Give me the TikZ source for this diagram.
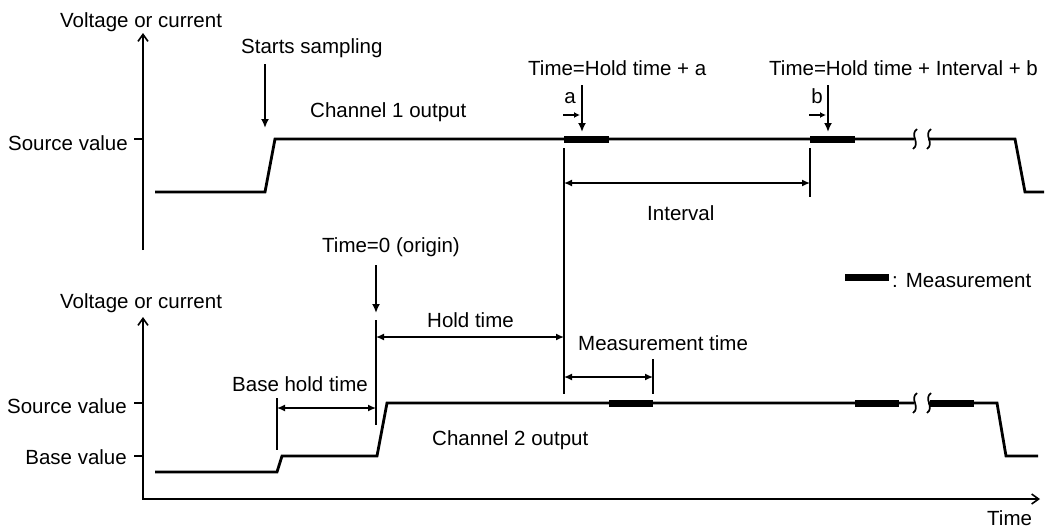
\documentclass[tikz,border=0pt]{standalone}
\usepackage{fontspec}
\setmainfont{Liberation Sans}
\usetikzlibrary{arrows.meta}
\begin{document}
\begin{tikzpicture}[x=1pt,y=-1pt,
  font=\fontsize{20.5}{24}\selectfont,
  wave/.style={line width=2.8pt, line join=miter},
  axisone/.style={line width=2pt, -{Straight Barb[length=7pt,width=10pt,line width=1.6pt]}},
  axistwo/.style={line width=2pt, {Straight Barb[length=7pt,width=10pt,line width=1.6pt]}-{Straight Barb[length=7pt,width=10pt,line width=1.6pt]}},
  dim/.style={line width=1.4pt, {Latex[length=8pt,width=7pt]}-{Latex[length=8pt,width=7pt]}},
  extl/.style={line width=1.8pt},
  ptr/.style={line width=1.8pt, -{Latex[length=9pt,width=8pt]}},
  sptr/.style={line width=1.6pt, -{Latex[length=6pt,width=6pt]}},
  meas/.style={line width=7pt},
  brk/.style={line width=1.7pt},
  lbl/.style={anchor=base west, inner sep=0pt},
  lblr/.style={anchor=base east, inner sep=0pt},
  tickl/.style={line width=2pt}]
\useasboundingbox (0,0) rectangle (1060,531);

% ---------- top diagram ----------
\coordinate (a1b) at (143,250);
\coordinate (a1t) at (143,33);
\draw[axisone] (a1b) -- (a1t);
\coordinate (t1a) at (134,139);
\coordinate (t1b) at (143,139);
\draw[tickl] (t1a) -- (t1b);

\node[lbl] (v1) at (60,27) {Voltage or current};
\node[lblr] (s1) at (128,150) {Source value};
\node[lbl] (ss) at (241,53) {Starts sampling};
\node[lbl] (c1) at (310,117) {Channel 1 output};
\node[lbl] (th1) at (528,75) {Time=Hold time + a};
\node[lbl] (th2) at (769,75) {Time=Hold time + Interval + b};
\node[anchor=base, inner sep=0pt] (la) at (570,103) {a};
\node[anchor=base, inner sep=0pt] (lb) at (817,103) {b};
\node[lbl] (iv) at (647,220) {Interval};

% channel 1 waveform
\coordinate (w1) at (155,192);
\coordinate (w2) at (265,192);
\coordinate (w3) at (275,139);
\coordinate (w4) at (914,139);
\coordinate (w5) at (928,139);
\coordinate (w6) at (1015,139);
\coordinate (w7) at (1025,192);
\coordinate (w8) at (1044,192);
\draw[wave] (w1) -- (w2) -- (w3) -- (w4);
\draw[wave] (w5) -- (w6) -- (w7) -- (w8);
\draw[brk] (917,129) .. controls (909,135) and (921,143) .. (913,149);
\draw[brk] (931,129) .. controls (923,135) and (935,143) .. (927,149);

% measurement bars ch1
\coordinate (m1a) at (564,139); \coordinate (m1b) at (609,139);
\coordinate (m2a) at (810,139); \coordinate (m2b) at (855,139);
\draw[meas] (m1a) -- (m1b);
\draw[meas] (m2a) -- (m2b);

% pointers
\coordinate (ssa) at (265,64); \coordinate (ssb) at (265,128);
\draw[ptr] (ssa) -- (ssb);
\coordinate (paa) at (582,85); \coordinate (pab) at (582,132);
\draw[ptr] (paa) -- (pab);
\coordinate (pba) at (828,85); \coordinate (pbb) at (828,132);
\draw[ptr] (pba) -- (pbb);
\coordinate (saa) at (563,115); \coordinate (sab) at (580,115);
\draw[sptr] (saa) -- (sab);
\coordinate (sba) at (809,115); \coordinate (sbb) at (826,115);
\draw[sptr] (sba) -- (sbb);

% interval
\coordinate (e1a) at (564,148); \coordinate (e1b) at (564,394);
\coordinate (e2a) at (810,148); \coordinate (e2b) at (810,197);
\draw[extl] (e1a) -- (e1b);
\draw[extl] (e2a) -- (e2b);
\coordinate (ia) at (564,183); \coordinate (ib) at (810,183);
\draw[dim] (ia) -- (ib);

% legend
\coordinate (lga) at (845,277); \coordinate (lgb) at (889,277);
\draw[meas] (lga) -- (lgb);
\node[lbl] (lgt) at (892,287) {:\hspace{8pt}Measurement};

% ---------- bottom diagram ----------
\coordinate (a2t) at (143,317);
\coordinate (a2c) at (143,499);
\coordinate (a2r) at (1040,499);
\draw[axistwo] (a2t) -- (a2c) -- (a2r);
\coordinate (t2a) at (134,403); \coordinate (t2b) at (143,403);
\coordinate (t3a) at (134,456); \coordinate (t3b) at (143,456);
\draw[tickl] (t2a) -- (t2b);
\draw[tickl] (t3a) -- (t3b);

\node[lbl] (v2) at (60,308) {Voltage or current};
\node[lblr] (s2) at (127,413) {Source value};
\node[lblr] (bv) at (127,464) {Base value};
\node[lbl] (tm) at (987,525) {Time};
\node[lbl] (t0) at (322,252) {Time=0 (origin)};
\node[lbl] (ht) at (427,327) {Hold time};
\node[lbl] (mt) at (578,350) {Measurement time};
\node[lbl] (bh) at (232,391) {Base hold time};
\node[lbl] (c2) at (432,445) {Channel 2 output};

% channel 2 waveform
\coordinate (u1) at (155,472);
\coordinate (u2) at (277,472);
\coordinate (u3) at (282,456);
\coordinate (u4) at (377,456);
\coordinate (u5) at (387,403);
\coordinate (u6) at (914,403);
\coordinate (u7) at (928,403);
\coordinate (u8) at (997,403);
\coordinate (u9) at (1006,456);
\coordinate (u10) at (1038,456);
\draw[wave] (u1) -- (u2) -- (u3) -- (u4) -- (u5) -- (u6);
\draw[wave] (u7) -- (u8) -- (u9) -- (u10);
\draw[brk] (917,393) .. controls (909,399) and (921,407) .. (913,413);
\draw[brk] (931,393) .. controls (923,399) and (935,407) .. (927,413);

% measurement bars ch2
\coordinate (n1a) at (609,403); \coordinate (n1b) at (653,403);
\coordinate (n2a) at (855,403); \coordinate (n2b) at (899,403);
\coordinate (n3a) at (930,403); \coordinate (n3b) at (974,403);
\draw[meas] (n1a) -- (n1b);
\draw[meas] (n2a) -- (n2b);
\draw[meas] (n3a) -- (n3b);

% base hold time
\coordinate (f1a) at (277,398); \coordinate (f1b) at (277,450);
\coordinate (f2a) at (376,320); \coordinate (f2b) at (376,425);
\draw[extl] (f1a) -- (f1b);
\draw[extl] (f2a) -- (f2b);
\coordinate (ba) at (277,408); \coordinate (bb) at (376,408);
\draw[dim] (ba) -- (bb);

% time = 0
\coordinate (z0a) at (376,265); \coordinate (z0b) at (376,313);
\draw[ptr] (z0a) -- (z0b);

% hold time
\coordinate (ha) at (376,337); \coordinate (hb) at (564,337);
\draw[dim] (ha) -- (hb);

% measurement time
\coordinate (g1a) at (653,359); \coordinate (g1b) at (653,394);
\draw[extl] (g1a) -- (g1b);
\coordinate (ma) at (564,377); \coordinate (mb) at (653,377);
\draw[dim] (ma) -- (mb);
\end{tikzpicture}
\end{document}
